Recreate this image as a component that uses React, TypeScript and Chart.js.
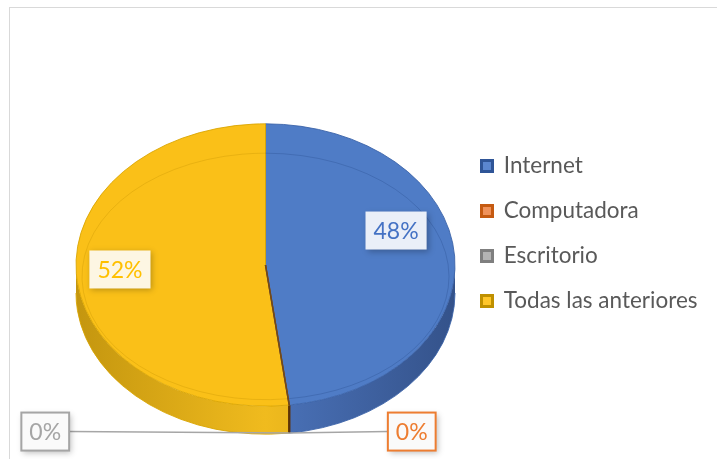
import React, { useEffect, useRef } from 'react';
import { Chart, registerables } from 'chart.js';

Chart.register(...registerables);

// ---- data ----
const categories = ['Internet', 'Computadora', 'Escritorio', 'Todas las anteriores'];
const values = [48, 0, 0, 52];
const valueLabels = ['48%', '0%', '0%', '52%'];

// ---- styles ----
const topColors = ['#4F7CC6', '#ED7D31', '#A5A5A5', '#FAC018'];
const edgeColors = ['#3A62A8', '#C55A11', '#7F7F7F', '#D9A400'];
const sideLight = ['#4B73BA', '#C55A11', '#8C8C8C', '#F0BB1E'];
const sideDark = ['#34528A', '#A04A0E', '#6E6E6E', '#C4960F'];
const ringColors = ['rgba(47,85,151,0.45)', 'rgba(197,90,17,0.4)', 'rgba(127,127,127,0.4)', 'rgba(191,144,0,0.35)'];
const legendFill = ['#5B87D0', '#F0925A', '#B4B4B4', '#FFC62A'];
const legendStroke = ['#2F5597', '#C55A11', '#7F7F7F', '#BF9000'];
const labelText = ['#4472C4', '#ED7D31', '#A5A5A5', '#FFC000'];
const labelFill = ['#EAEFF8', '#FAFAFA', '#FAFAFA', '#FDF6E3'];

const FONT = 'Lato';
const LEGEND_FONT = 22.5;
const LABEL_FONT = 23;
const LEGEND_PAD = 22.5;
const BOX = 11;
const K = 0.745; // vertical squash of the pie
const DEPTH = 28; // 3D side depth in screen px
const SHIFT = 31.5; // vertical shift of the squashed pie

const pie3d = {
  id: 'pie3d',
  beforeDraw(chart: any) {
    const ctx = chart.ctx;
    ctx.save();
    ctx.fillStyle = '#ffffff';
    ctx.fillRect(0, 0, chart.width, chart.height);
    ctx.strokeStyle = '#D9D9D9';
    ctx.lineWidth = 1;
    ctx.strokeRect(9.5, 7.5, chart.width + 20, chart.height + 20);
    ctx.restore();
  },
  beforeDatasetsDraw(chart: any) {
    const ctx = chart.ctx;
    const arcs = chart.getDatasetMeta(0).data as any[];
    const cx = arcs[0].x, cy = arcs[0].y, r = arcs[0].outerRadius;
    ctx.save();
    ctx.translate(cx, cy + SHIFT);
    ctx.scale(1, K);
    ctx.translate(-cx, -cy);
    const D = DEPTH / K;
    arcs.forEach((arc, i) => {
      const a = Math.max(arc.startAngle, 0);
      const b = Math.min(arc.endAngle, Math.PI);
      if (b - a <= 0.0001) return;
      const g = ctx.createLinearGradient(cx - r, 0, cx + r, 0);
      g.addColorStop(0, sideDark[i]);
      g.addColorStop(0.5, sideLight[i]);
      g.addColorStop(1, sideDark[i]);
      ctx.beginPath();
      ctx.arc(cx, cy + D, r, a, b);
      ctx.arc(cx, cy, r, b, a, true);
      ctx.closePath();
      ctx.fillStyle = g;
      ctx.fill();
      ctx.beginPath();
      ctx.arc(cx, cy + D, r, a, b);
      ctx.strokeStyle = edgeColors[i];
      ctx.lineWidth = 1;
      ctx.stroke();
    });
    arcs.forEach((arc, i) => {
      if (values[i] !== 0) return;
      const ang = arc.startAngle;
      if (ang < 0 || ang > Math.PI) return;
      const px = cx + r * Math.cos(ang), py = cy + r * Math.sin(ang);
      ctx.beginPath();
      ctx.moveTo(px, py);
      ctx.lineTo(px, py + D);
      ctx.strokeStyle = '#5C3306';
      ctx.lineWidth = 2;
      ctx.stroke();
    });
  },
  afterDatasetsDraw(chart: any) {
    const ctx = chart.ctx;
    const arcs = chart.getDatasetMeta(0).data as any[];
    const cx = arcs[0].x, cy = arcs[0].y, r = arcs[0].outerRadius;
    // bevel ring
    arcs.forEach((arc, i) => {
      if (values[i] === 0) return;
      ctx.beginPath();
      ctx.ellipse(cx, cy + r * 0.081, r - 6, r * 0.873, 0, arc.startAngle, arc.endAngle);
      ctx.strokeStyle = ringColors[i];
      ctx.lineWidth = 1;
      ctx.stroke();
    });
    // zero-value slices as thin wedges
    arcs.forEach((arc, i) => {
      if (values[i] !== 0) return;
      const ang = arc.startAngle;
      ctx.beginPath();
      ctx.moveTo(cx, cy);
      ctx.lineTo(cx + r * Math.cos(ang), cy + r * Math.sin(ang));
      ctx.strokeStyle = i === 1 ? '#8A4210' : '#6B4A20';
      ctx.lineWidth = 1.5;
      ctx.stroke();
    });
    ctx.restore();
  },
  afterDraw(chart: any) {
    const ctx = chart.ctx;
    const arcs = chart.getDatasetMeta(0).data as any[];
    const cx = arcs[0].x, cy = arcs[0].y, r = arcs[0].outerRadius;
    const sy = (y: number) => cy + SHIFT + (y - cy) * K;
    ctx.save();
    ctx.font = `${LABEL_FONT}px ${FONT}`;
    const drawBox = (x: number, y: number, i: number, bordered: boolean) => {
      const text = valueLabels[i];
      const tw = ctx.measureText(text).width;
      const w = tw + 16, h = 38;
      ctx.save();
      ctx.shadowColor = 'rgba(0,0,0,0.25)';
      ctx.shadowBlur = 6;
      ctx.shadowOffsetX = 2;
      ctx.shadowOffsetY = 2;
      ctx.fillStyle = labelFill[i];
      ctx.fillRect(x - w / 2, y - h / 2, w, h);
      ctx.restore();
      if (bordered) {
        ctx.strokeStyle = labelText[i];
        ctx.lineWidth = 2;
        ctx.strokeRect(x - w / 2, y - h / 2, w, h);
      }
      ctx.fillStyle = labelText[i];
      ctx.textAlign = 'center';
      ctx.textBaseline = 'middle';
      ctx.fillText(text, x, y + 1);
      return w;
    };
    let zeroCount = 0;
    arcs.forEach((arc, i) => {
      if (values[i] > 0) {
        const m = (arc.startAngle + arc.endAngle) / 2;
        const f = 0.73;
        const x = cx + f * r * Math.cos(m) - 7.5;
        const y = sy(cy + f * r * Math.sin(m)) + (Math.cos(m) > 0 ? -28 : -2);
        drawBox(x, y, i, false);
      } else {
        const ang = arc.startAngle;
        const ax = cx + r * Math.cos(ang);
        const ay = sy(cy + r * Math.sin(ang)) + DEPTH;
        const right = zeroCount === 0;
        zeroCount++;
        const bx = right ? ax + 122.5 : ax - 244;
        const by = ay - 1.5;
        ctx.font = `${LABEL_FONT}px ${FONT}`;
        const w = ctx.measureText(valueLabels[i]).width + 16;
        ctx.beginPath();
        ctx.moveTo(right ? bx - w / 2 : bx + w / 2, by);
        ctx.lineTo(ax, ay);
        ctx.strokeStyle = '#A6A6A6';
        ctx.lineWidth = 1.5;
        ctx.stroke();
        drawBox(bx, by, i, true);
      }
    });
    ctx.restore();
  },
};

export default function App() {
  const ref = useRef<HTMLCanvasElement>(null);
  useEffect(() => {
    const canvas = ref.current!;
    const mctx = document.createElement('canvas').getContext('2d')!;
    mctx.font = `${LEGEND_FONT}px ${FONT}`;
    const textW = Math.max(...categories.map((c) => mctx.measureText(c).width));
    const legendW = LEGEND_PAD + BOX + LEGEND_FONT / 2 + textW + 10;
    const legendLeft = 481.5 - LEGEND_PAD;
    const padL = 2 * 265.5 - legendLeft;
    const padR = Math.max(0, 717 - legendLeft - legendW);
    const chart = new Chart(canvas, {
      type: 'pie',
      data: {
        labels: categories,
        datasets: [
          {
            data: values,
            backgroundColor: topColors,
            borderColor: edgeColors,
            borderWidth: 1,
            clip: false as any,
          },
        ],
      },
      options: {
        responsive: false,
        animation: false,
        layout: { padding: { left: padL, top: 43.5, bottom: 35.5, right: padR } },
        plugins: {
          tooltip: { enabled: false },
          legend: {
            position: 'right',
            align: 'center',
            labels: {
              font: { family: FONT, size: LEGEND_FONT },
              color: '#595959',
              boxWidth: BOX,
              boxHeight: BOX,
              padding: LEGEND_PAD,
              generateLabels: () =>
                categories.map((text, i) => ({
                  text,
                  fillStyle: legendFill[i],
                  strokeStyle: legendStroke[i],
                  lineWidth: 3,
                  fontColor: '#595959',
                  hidden: false,
                  index: i,
                })),
            },
          },
        },
      },
      plugins: [pie3d],
    });
    return () => chart.destroy();
  }, []);
  return (
    <div style={{ position: 'fixed', left: 0, top: 0, width: 717, height: 459, background: '#fff' }}>
      <canvas ref={ref} width={717} height={459} style={{ width: 717, height: 459, display: 'block' }} />
    </div>
  );
}
